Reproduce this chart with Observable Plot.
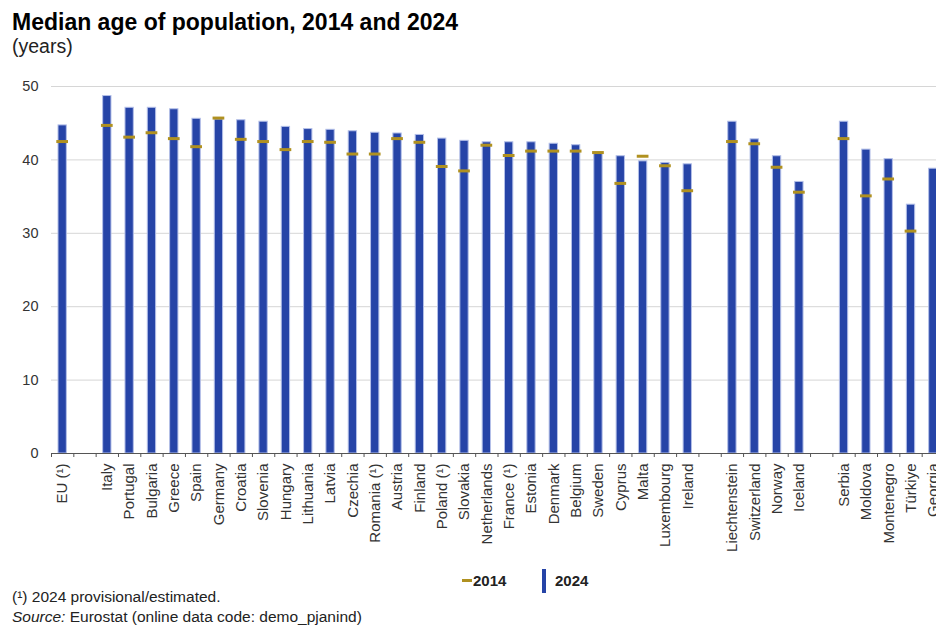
<!DOCTYPE html>
<html>
<head>
<meta charset="utf-8">
<script src="https://cdn.jsdelivr.net/npm/d3@7"></script>
<script src="https://cdn.jsdelivr.net/npm/@observablehq/plot@0.6"></script>
<style>
  html, body { margin: 0; padding: 0; overflow: hidden; background: #fff; }
  body { width: 936px; height: 625px; position: relative; font-family: "Liberation Sans", Arial, sans-serif; color: #000; }
  .t { position: absolute; line-height: 1; white-space: nowrap; }
  #title { left: 12px; top: 11px; font-weight: bold; font-size: 23px; }
  #subtitle { left: 12px; top: 36.5px; font-size: 19.5px; color: #222; }
  #chart { position: absolute; left: 0; top: 60px; }
  #chart svg { max-width: none !important; }
  .lg { font-weight: bold; font-size: 15px; color: #222; }
  .note { left: 12px; font-size: 15.5px; color: #222; }
</style>
</head>
<body>
<div id="title" class="t">Median age of population, 2014 and 2024</div>
<div id="subtitle" class="t">(years)</div>
<div id="chart"></div>
<div class="t" style="left:462px;top:579px;width:10px;height:3px;background:#B09120"></div>
<div class="t lg" style="left:473px;top:572.5px">2014</div>
<div class="t" style="left:542px;top:569px;width:4px;height:24px;background:#2644A7"></div>
<div class="t lg" style="left:555px;top:572.5px">2024</div>
<div class="t note" style="top:588.5px">(¹) 2024 provisional/estimated.</div>
<div class="t note" style="top:608.5px"><i>Source:</i> Eurostat (online data code: demo_pjanind)</div>
<script>
// Country groups (a blank slot separates each group)
const euAggregate = ["EU (¹)"];
const euMembers = ["Italy", "Portugal", "Bulgaria", "Greece", "Spain", "Germany", "Croatia", "Slovenia", "Hungary", "Lithuania", "Latvia", "Czechia", "Romania (¹)", "Austria", "Finland", "Poland (¹)", "Slovakia", "Netherlands", "France (¹)", "Estonia", "Denmark", "Belgium", "Sweden", "Cyprus", "Malta", "Luxembourg", "Ireland"];
const efta = ["Liechtenstein", "Switzerland", "Norway", "Iceland"];
const candidates = ["Serbia", "Moldova", "Montenegro", "Türkiye", "Georgia"];

// Median age, years
const age2024 = [44.7,
  48.7, 47.1, 47.1, 46.9, 45.6, 45.5, 45.4, 45.2, 44.5, 44.2, 44.1, 43.9, 43.7, 43.6, 43.4, 42.9, 42.6, 42.4, 42.4, 42.4, 42.2, 42.0, 41.0, 40.5, 39.8, 39.6, 39.4,
  45.2, 42.8, 40.5, 37.0,
  45.2, 41.4, 40.1, 33.9, 38.8];
const age2014 = [42.5,
  44.7, 43.1, 43.7, 42.9, 41.8, 45.7, 42.8, 42.5, 41.4, 42.5, 42.4, 40.8, 40.8, 42.9, 42.4, 39.1, 38.5, 42.0, 40.6, 41.2, 41.2, 41.2, 41.0, 36.8, 40.5, 39.2, 35.8,
  42.5, 42.2, 39.0, 35.6,
  42.9, 35.1, 37.4, 30.3, null];

const countries = [...euAggregate, ...euMembers, ...efta, ...candidates];
const slots = [...euAggregate, "gap1", ...euMembers, "gap2", ...efta, "gap3", ...candidates];
const rows = countries.map((c, i) => ({country: c, v2024: age2024[i], v2014: age2014[i]}));

const W = 950, H = 505, ML = 51, MR = 6, MT = 26, MB = 112;
const step = (W - ML - MR) / slots.length;

const chart = Plot.plot({
  width: W, height: H,
  marginTop: MT, marginBottom: MB, marginLeft: ML, marginRight: MR,
  style: {fontFamily: "'Liberation Sans', Arial, sans-serif", fontSize: "14.5px", color: "#333", background: "transparent", maxWidth: "none"},
  x: {type: "band", domain: slots, padding: 0, round: false},
  y: {domain: [0, 50]},
  marks: [
    Plot.gridY([10, 20, 30, 40, 50], {stroke: "#d6d6d6", strokeOpacity: 1}),
    Plot.axisY([0, 10, 20, 30, 40, 50], {tickSize: 0, tickPadding: 13, label: null}),
    Plot.barY(rows, {x: "country", y: "v2024", fill: "#2644A7", stroke: "#b3bfe8", strokeWidth: 1, insetLeft: 7, insetRight: 7}),
    Plot.tickY(rows.filter(d => d.v2014 != null), {x: "country", y: "v2014", stroke: "#B09120", strokeWidth: 3, inset: 5.3}),
    Plot.ruleY([0], {stroke: "#555"}),
    Plot.axisX(slots, {tickSize: 4, tickFormat: () => "", dx: step / 2, stroke: "#555", label: null}),
    Plot.axisX([slots[0]], {tickSize: 4, tickFormat: () => "", dx: -step / 2, stroke: "#555", label: null}),
    Plot.axisX(countries, {tickSize: 0, tickPadding: 10, tickRotate: -90, label: null, fill: "#333", fontSize: 15})
  ]
});
document.getElementById("chart").appendChild(chart);
</script>
</body>
</html>
